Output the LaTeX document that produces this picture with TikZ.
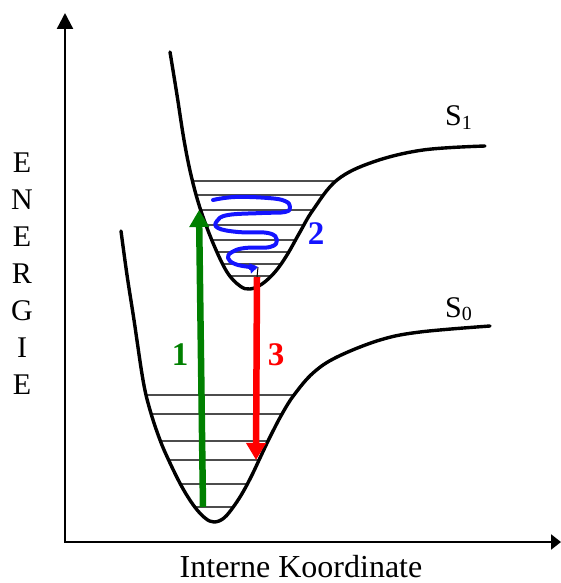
\documentclass[tikz,border=0pt]{standalone}
\usepackage{fontspec}
\setmainfont{Liberation Serif}
\usetikzlibrary{arrows.meta}
\definecolor{dgreen}{RGB}{0,128,0}
\definecolor{pblue}{RGB}{20,20,255}
\begin{document}
\begin{tikzpicture}[x=1pt,y=-1pt,
  curve/.style={line width=3.4pt, line join=round, line cap=round},
  level/.style={black!70, line width=1.8pt},
  axis/.style={line width=2.4pt, {Triangle[length=16pt,width=16pt]}-{Triangle[length=10pt,width=15pt]}},
  lbl/.style={font=\fontsize{30}{30}\selectfont, anchor=base, inner sep=0pt},
  num/.style={font=\fontsize{33}{33}\selectfont\bfseries, anchor=base, inner sep=0pt},
  trans/.style={line width=6.5pt, -{Triangle[length=17pt,width=19pt]}},
]
\useasboundingbox (0,0) rectangle (561,583);

% axes
\coordinate (ytip) at (65,13);
\coordinate (O) at (65,542);
\coordinate (xtip) at (561,542);
\draw[axis] (ytip) -- (O) -- (xtip);

\def\SonePts{(170,52) (177,95) (184,140) (191,175) (200,208) (213,243) (227,272) (240,286) (250,289) (262,284) (275,272) (287,255) (300,232) (313,210) (337,180) (373,162) (423,150) (485,146)}
\def\SzeroPts{(121,231) (127,275) (134,320) (143,380) (150,410) (160,440) (170,463) (182,487) (194,506) (205,518) (214,522) (224,518) (234,506) (243,492) (252,475) (260,458) (270,437) (282,414) (294,395) (313,373) (337,357) (380,340) (420,332) (490,326)}

% S1 vibrational levels
\begin{scope}
\clip plot[smooth, tension=0.6] coordinates {\SonePts} -- (485,40) -- (170,40) -- cycle;
\foreach \yy in {181,195,210,225,240,252,264,276}
  \draw[level] (150,\yy) -- (400,\yy);
\end{scope}

% S0 vibrational levels
\begin{scope}
\clip plot[smooth, tension=0.6] coordinates {\SzeroPts} -- (490,220) -- (121,220) -- cycle;
\foreach \yy in {395,414,441,460,484,507}
  \draw[level] (100,\yy) -- (400,\yy);
\end{scope}

% potential curves
\draw[curve] plot[smooth, tension=0.6] coordinates {\SonePts};
\draw[curve] plot[smooth, tension=0.6] coordinates {\SzeroPts};

% transitions
\coordinate (g0) at (203,507);
\coordinate (g1) at (199,210);
\coordinate (r0) at (257,277);
\coordinate (r1) at (256,460);
\coordinate (b1) at (258,267);
\draw[trans, dgreen] (g0) -- (g1);
\draw[trans, red] (r0) -- (r1);
\draw[line width=1pt] (b1) -- (r0);
\draw[pblue, line width=4pt, line cap=round, line join=round, -{Triangle[length=8pt,width=10pt]}]
  plot[smooth, tension=0.7] coordinates {(213,200) (235,197) (268,198) (285,201) (290,207) (285,212) (262,213) (228,215) (217,221) (218,228) (238,232) (268,233) (277,240) (270,247) (245,248) (232,252) (228,258) (235,264) (250,267) (b1)};

% labels
\node[num, text=dgreen] (n1) at (180,365) {1};
\node[num, text=pblue] (n2) at (316,244) {2};
\node[num, text=red] (n3) at (276,365) {3};

\node[lbl, anchor=base west] (s1) at (445,125) {S\raisebox{-4pt}{\fontsize{20}{20}\selectfont 1}};
\node[lbl, anchor=base west] (s0) at (445,317) {S\raisebox{-3pt}{\fontsize{20}{20}\selectfont 0}};

\node[lbl] (e1) at (22,172) {E};
\node[lbl] (e2) at (22,209) {N};
\node[lbl] (e3) at (22,246) {E};
\node[lbl] (e4) at (22,283) {R};
\node[lbl] (e5) at (22,320) {G};
\node[lbl] (e6) at (22,357) {I};
\node[lbl] (e7) at (22,394) {E};

\node[font=\fontsize{32}{32}\selectfont, anchor=base, inner sep=0pt] (xl) at (301,577) {Interne Koordinate};
\end{tikzpicture}
\end{document}
